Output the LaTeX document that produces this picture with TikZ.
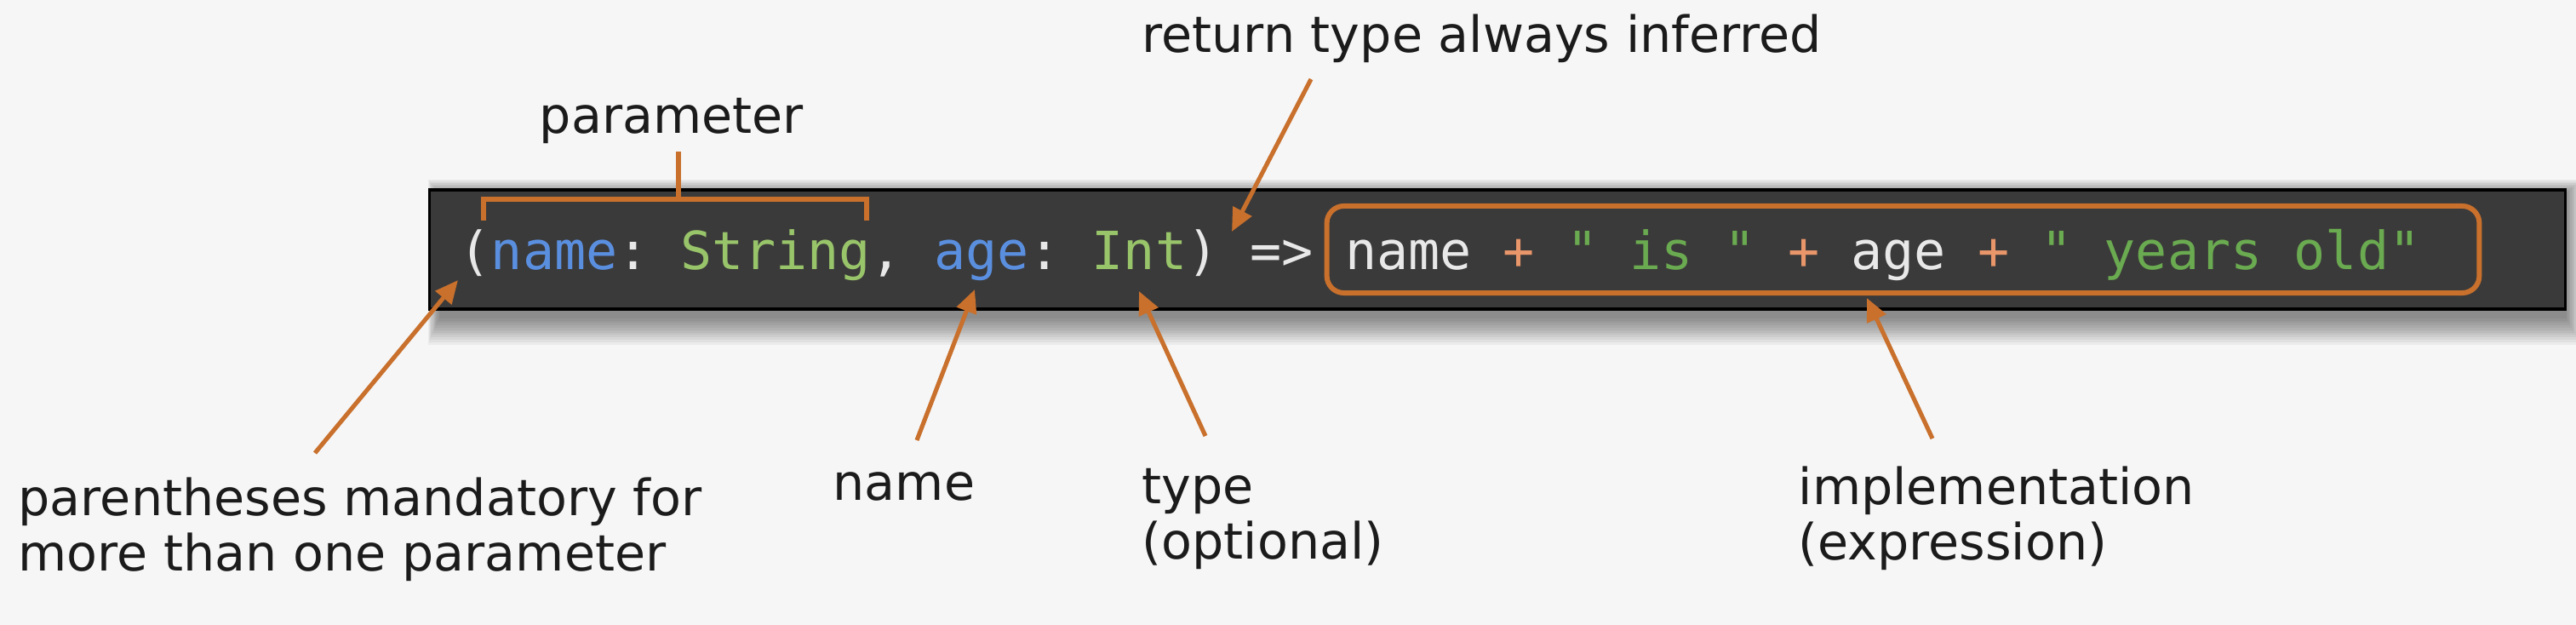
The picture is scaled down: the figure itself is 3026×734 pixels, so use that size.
\documentclass[tikz,border=0pt]{standalone}
\usepackage{fontspec}
\setmainfont{DejaVu Sans}
\newfontfamily\codefont{DejaVu Sans Mono}
\usetikzlibrary{arrows.meta}
\definecolor{bgcol}{HTML}{F6F6F6}
\definecolor{accent}{HTML}{C8702C}
\definecolor{boxcol}{HTML}{3B3A3A}
\definecolor{cw}{HTML}{E8E8E8}
\definecolor{cb}{HTML}{5A8FE0}
\definecolor{cg}{HTML}{98C46A}
\definecolor{cs}{HTML}{6AAA50}
\definecolor{co}{HTML}{E8966A}
\definecolor{lblcol}{HTML}{1B1B1B}
\frenchspacing
\tikzset{
  lbl/.style={anchor=base west, inner sep=0pt, text=lblcol,
    font=\fontsize{16.7}{18.5}\selectfont},
  arr/.style={draw=accent, line width=1.45pt,
    -{Triangle[length=0.27cm,width=0.24cm]}},
  brk/.style={draw=accent, line width=1.7pt, line cap=butt, line join=miter},
  codebox/.style={draw=black, line width=0.9pt, fill=boxcol,
    minimum width=25.08cm, minimum height=1.4cm, inner sep=0pt},
  implbox/.style={draw=accent, line width=1.7pt, rounded corners=0.2cm,
    minimum width=13.53cm, minimum height=1.02cm, inner sep=0pt},
  codetext/.style={anchor=base west, inner sep=0pt,
    font=\codefont\fontsize{17.55}{20}\selectfont}
}
\begin{document}
\begin{tikzpicture}[x=0.01cm,y=-0.01cm]
\useasboundingbox (0,0) rectangle (3026,734);
\fill[bgcol] (0,0) rectangle (3026,734);

% shadow of the code box
\foreach \i in {1,...,12}
  \fill[black,opacity=0.045] (505+12-\i*1.2,223+6-\i*1.5) rectangle (3013+\i*1.6,363+8+\i*2.8);

% code box
\node[codebox] (box) at (1759,293) {};
\node[implbox] (impl) at (2235.5,293) {};
\node[codetext] (code) at (539,317) {\color{cw}(\color{cb}name\color{cw}: \color{cg}String\color{cw}, \color{cb}age\color{cw}: \color{cg}Int\color{cw}) => name \color{co}+ \color{cs}" is " \color{co}+ \color{cw}age \color{co}+ \color{cs}" years old"};

% labels (multi-line labels: base is the last line's baseline)
\node[lbl] (lparam) at (633,157) {parameter};
\node[lbl] (lret) at (1341,62) {return type always inferred};
\node[lbl,align=left] (lparen) at (21,671) {parentheses mandatory for\\more than one parameter};
\node[lbl] (lname) at (978,588) {name};
\node[lbl,align=left] (ltype) at (1341,657) {type\\(optional)};
\node[lbl,align=left] (limpl) at (2112,658) {implementation\\(expression)};

% bracket for parameter
\coordinate (bl) at (568,259);
\coordinate (btl) at (568,234);
\coordinate (btr) at (1018,234);
\coordinate (br) at (1018,259);
\coordinate (bmid) at (797,234);
\coordinate (bstem) at (797,178);
\draw[brk] (bl) -- (btl) -- (btr) -- (br);
\draw[brk] (bmid) -- (bstem);

% arrows
\coordinate (tparen) at (370,532);
\coordinate (hparen) at (538,329);
\coordinate (tname) at (1077,517);
\coordinate (hname) at (1145,340);
\coordinate (ttype) at (1416,512);
\coordinate (htype) at (1338,342);
\coordinate (tret) at (1540,93);
\coordinate (hret) at (1447,272);
\coordinate (timpl) at (2270,515);
\coordinate (himpl) at (2193,350);
\draw[arr] (tparen) -- (hparen);
\draw[arr] (tname) -- (hname);
\draw[arr] (ttype) -- (htype);
\draw[arr] (tret) -- (hret);
\draw[arr] (timpl) -- (himpl);
\end{tikzpicture}
\end{document}
